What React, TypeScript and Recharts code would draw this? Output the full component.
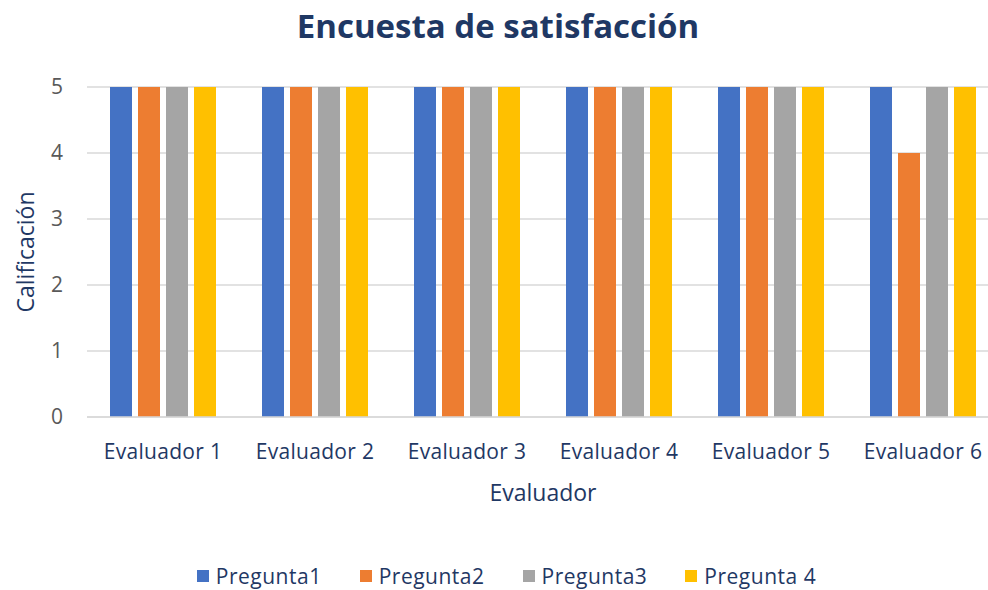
import React from 'react';
import { BarChart, Bar, XAxis, YAxis, CartesianGrid, Legend } from 'recharts';

const evaluadores = ['Evaluador 1', 'Evaluador 2', 'Evaluador 3', 'Evaluador 4', 'Evaluador 5', 'Evaluador 6'];
const pregunta1 = [5, 5, 5, 5, 5, 5];
const pregunta2 = [5, 5, 5, 5, 5, 4];
const pregunta3 = [5, 5, 5, 5, 5, 5];
const pregunta4 = [5, 5, 5, 5, 5, 5];
const yTicks = [0, 1, 2, 3, 4, 5];

const series = [
  { key: 'p1', name: 'Pregunta1', color: '#4472C4' },
  { key: 'p2', name: 'Pregunta2', color: '#ED7D31' },
  { key: 'p3', name: 'Pregunta3', color: '#A5A5A5' },
  { key: 'p4', name: 'Pregunta 4', color: '#FFC000' },
];

const data = evaluadores.map((name, i) => ({
  name,
  p1: pregunta1[i],
  p2: pregunta2[i],
  p3: pregunta3[i],
  p4: pregunta4[i],
}));

const FONT = '"Open Sans", "Liberation Sans", sans-serif';
const NAVY = '#1F3864';

const LegendContent = () => (
  <div style={{ display: 'flex', justifyContent: 'center', height: 28, alignItems: 'center', fontFamily: FONT, fontSize: 21, color: NAVY, paddingLeft: 14 }}>
    {series.map((s) => (
      <div key={s.key} style={{ display: 'flex', alignItems: 'center', margin: '0 19px', letterSpacing: 0.5 }}>
        <span style={{ width: 12, height: 12, background: s.color, display: 'inline-block', marginRight: 7 }} />
        {s.name}
      </div>
    ))}
  </div>
);

export default function App() {
  return (
    <div style={{ position: 'absolute', left: 0, top: 0, width: 988, height: 590, overflow: 'hidden', background: '#fff' }}>
      <div style={{ position: 'absolute', left: 0, top: 3, width: 996, textAlign: 'center', fontFamily: FONT, fontWeight: 700, fontSize: 33, color: NAVY }}>
        Encuesta de satisfacción
      </div>
      <BarChart
        width={1000}
        height={590}
        data={data}
        margin={{ top: 87, right: 1, bottom: 0, left: 0 }}
        barGap={6}
        barCategoryGap="15%"
      >
        <CartesianGrid vertical={false} stroke="#D9D9D9" strokeWidth={1.5} />
        <XAxis
          dataKey="name"
          height={145}
          tickLine={false}
          axisLine={{ stroke: '#D9D9D9', strokeWidth: 1.5 }}
          tick={{ fill: NAVY, fontSize: 21, fontFamily: FONT, letterSpacing: 0.3 }}
          tickMargin={21}
          label={{ value: 'Evaluador', position: 'insideTop', offset: 68, fill: NAVY, fontSize: 23, fontFamily: FONT }}
        />
        <YAxis
          width={87}
          domain={[0, 5]}
          ticks={yTicks}
          tickLine={false}
          axisLine={false}
          tickSize={0}
          tickMargin={24}
          tick={{ fill: '#595959', fontSize: 21, fontFamily: FONT }}
          label={{ value: 'Calificación', angle: -90, position: 'insideLeft', offset: 26, fill: NAVY, fontSize: 23, fontFamily: FONT, style: { textAnchor: 'middle' } }}
        />
        <Legend verticalAlign="bottom" content={<LegendContent />} />
        {series.map((s) => (
          <Bar key={s.key} dataKey={s.key} name={s.name} fill={s.color} barSize={22} isAnimationActive={false} />
        ))}
      </BarChart>
    </div>
  );
}
